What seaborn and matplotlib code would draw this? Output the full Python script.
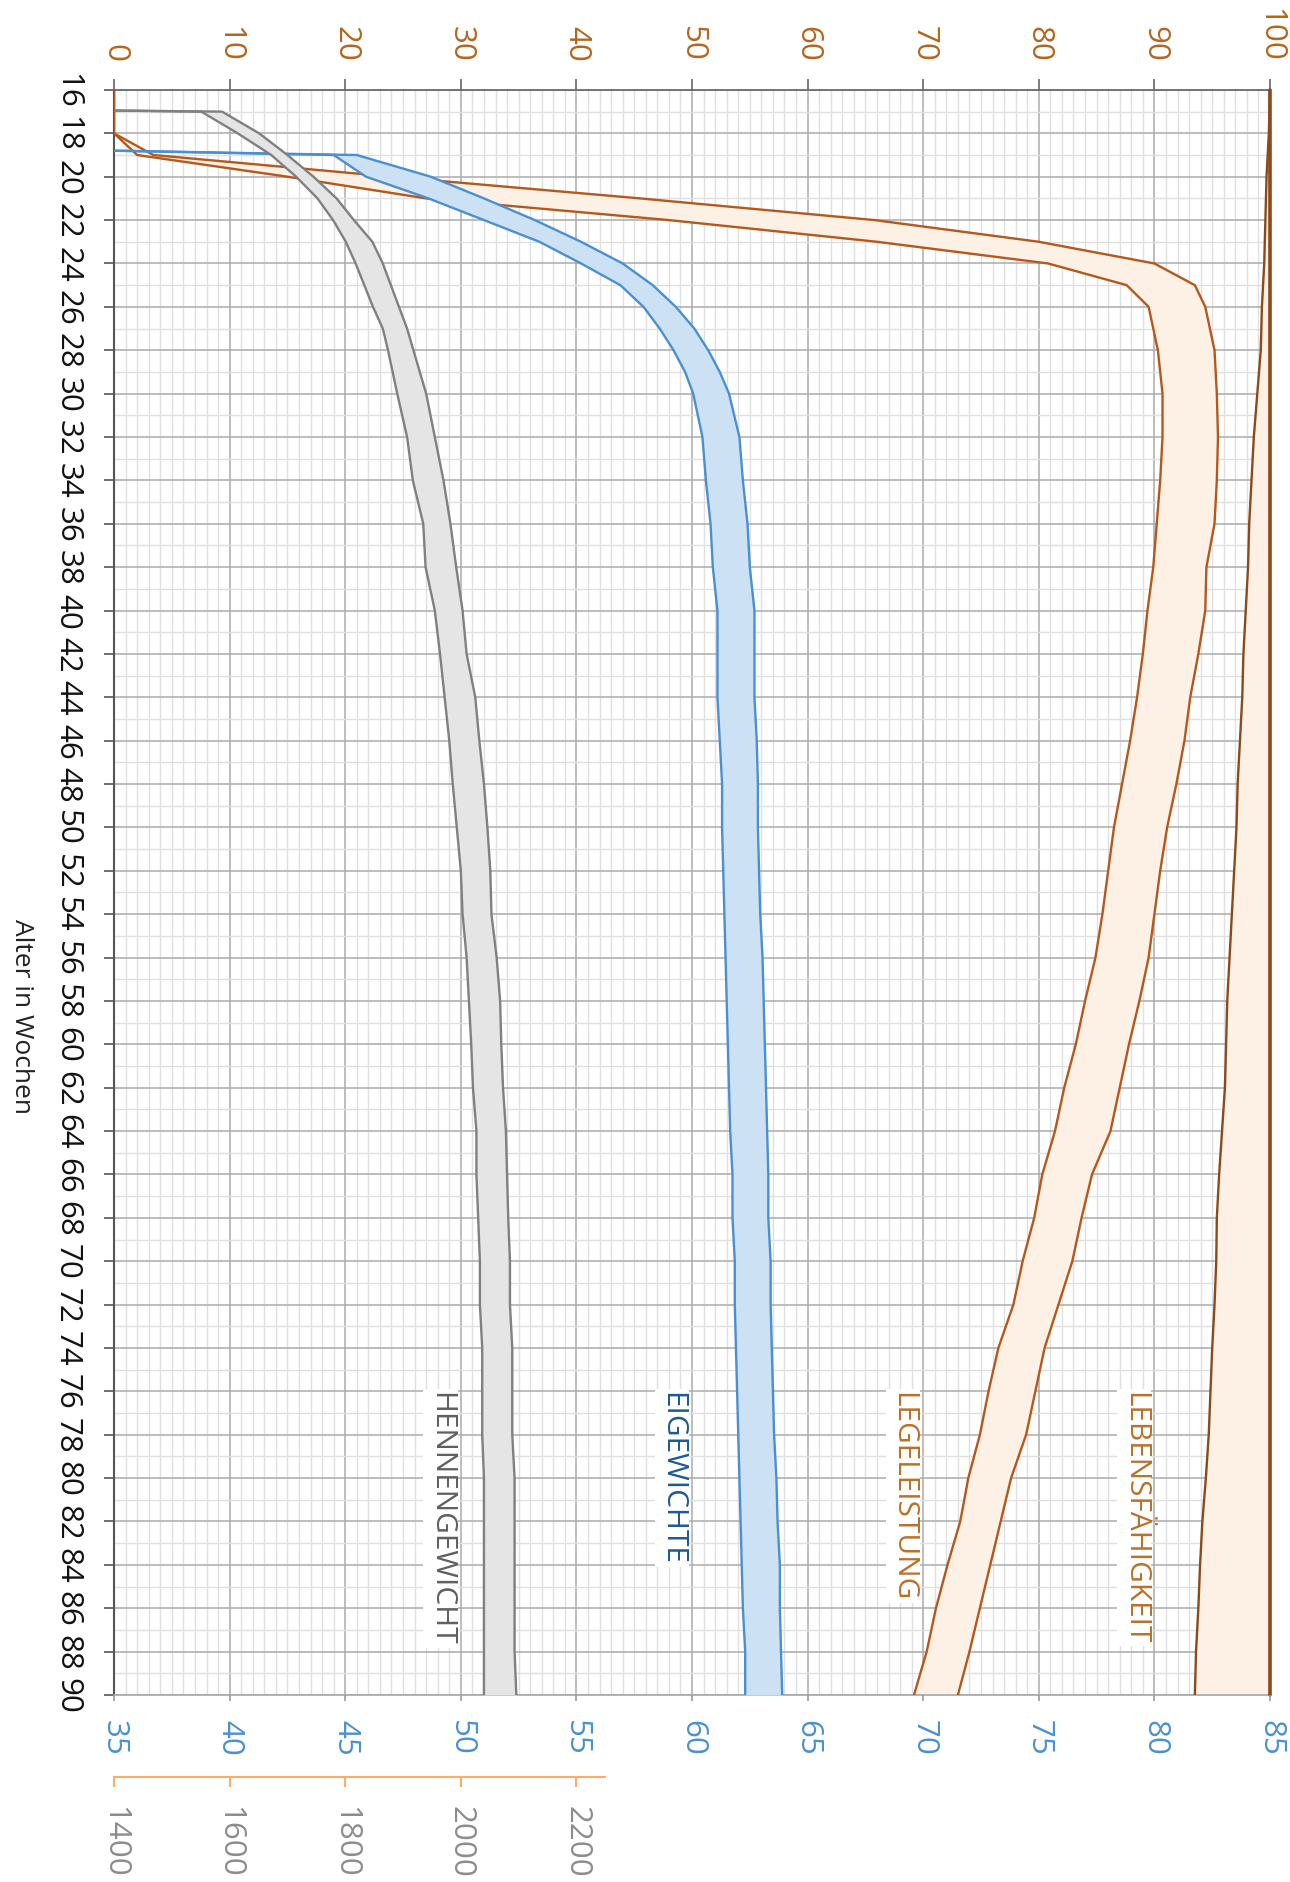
import numpy as np
import pandas as pd
import seaborn as sns
import matplotlib.pyplot as plt
from matplotlib.ticker import MultipleLocator

# Legeleistung in % (oberer Rand 0-100)
lege_wochen = [16, 18, 19, 20, 21, 22, 23, 24, 25, 26, 28, 30, 32, 34, 36, 38, 40, 42, 44, 46, 48,
               50, 52, 54, 56, 58, 60, 62, 64, 66, 68, 70, 72, 74, 76, 78, 80, 82, 84, 86, 88, 90]
lege_max = [0, 0, 3.4, 24, 45.5, 65.8, 80, 90, 93.5, 94.4, 95.2, 95.4, 95.5, 95.4, 95.2, 94.5, 94.4,
            93.8, 93.1, 92.6, 91.9, 91.1, 90.5, 90.0, 89.5, 88.7, 87.8, 87.0, 86.2, 84.6, 83.7, 82.9,
            81.7, 80.5, 79.7, 78.9, 77.6, 76.7, 75.8, 74.9, 74.0, 73.0]
lege_min = [0, 0, 2.0, 15, 27, 48, 66, 80.8, 87.6, 89.5, 90.3, 90.7, 90.7, 90.5, 90.2, 89.9, 89.4,
            89.0, 88.5, 87.9, 87.2, 86.5, 86.0, 85.5, 84.9, 84.0, 83.2, 82.2, 81.4, 80.3, 79.6, 78.6,
            77.8, 76.5, 75.65, 74.9, 73.9, 73.2, 72.1, 71.1, 70.3, 69.2]

# Lebensfähigkeit in %
leben_wochen = [16, 18, 20, 22, 24, 26, 28, 30, 32, 34, 36, 38, 40, 42, 44, 46, 48, 50, 52,
                54, 56, 58, 60, 62, 64, 66, 68, 70, 72, 74, 76, 78, 80, 82, 84, 86, 88, 90]
leben_min = [100, 99.9, 99.7, 99.6, 99.5, 99.3, 99.2, 98.9, 98.6, 98.4, 98.2, 98.1, 97.9, 97.7,
             97.6, 97.4, 97.2, 97.1, 96.9, 96.7, 96.5, 96.3, 96.2, 96.1, 95.85, 95.6, 95.4, 95.35,
             95.2, 95.0, 94.85, 94.7, 94.45, 94.15, 93.95, 93.8, 93.6, 93.5]
leben_max = [100.0] * len(leben_wochen)

# Eigewicht in g (unterer Rand 35-85)
ei_wochen = [18.8, 19, 20, 21, 22, 23, 24, 25, 26, 27, 28, 29, 30, 32, 34, 36, 38, 40, 42, 44, 46,
             48, 50, 52, 54, 56, 58, 60, 62, 64, 66, 68, 70, 72, 74, 76, 78, 80, 82, 84, 86, 88, 90]
ei_min = [35, 44.5, 45.9, 48.6, 51.0, 53.4, 55.2, 56.9, 57.9, 58.6, 59.2, 59.7, 60.05, 60.45, 60.6,
          60.8, 60.9, 61.1, 61.1, 61.1, 61.2, 61.3, 61.3, 61.35, 61.4, 61.45, 61.5, 61.55, 61.6,
          61.65, 61.75, 61.75, 61.85, 61.85, 61.9, 61.95, 62.0, 62.05, 62.1, 62.15, 62.2, 62.3, 62.3]
ei_max = [35, 45.5, 48.7, 51.0, 53.2, 55.2, 57.0, 58.3, 59.3, 60.1, 60.7, 61.2, 61.6, 62.05, 62.2,
          62.4, 62.5, 62.7, 62.7, 62.7, 62.8, 62.85, 62.85, 62.9, 62.95, 63.05, 63.1, 63.15, 63.2,
          63.25, 63.3, 63.3, 63.4, 63.4, 63.45, 63.5, 63.55, 63.65, 63.7, 63.8, 63.8, 63.85, 63.9]

# Hennengewicht in g (Skala 1400-2200)
henne_wochen = [16.95, 17, 18, 19, 20, 21, 22, 23, 24, 26, 27, 28, 30, 32, 34, 36, 38, 40, 42, 44,
                46, 48, 50, 52, 54, 56, 58, 60, 62, 64, 66, 68, 70, 72, 74, 76, 78, 80, 82, 84, 86,
                88, 90]
henne_min = [1400, 1551, 1614, 1672, 1715, 1752, 1779, 1801, 1818, 1848, 1865, 1874, 1890, 1907,
             1917, 1935, 1939, 1955, 1964, 1972, 1980, 1986, 1993, 2000, 2003, 2010, 2014, 2018,
             2021, 2027, 2027, 2030, 2033, 2033, 2037, 2037, 2037, 2040, 2040, 2040, 2040, 2040, 2040]
henne_max = [1400, 1587, 1651, 1700, 1745, 1785, 1815, 1847, 1865, 1893, 1907, 1918, 1940, 1955,
             1970, 1982, 1992, 2003, 2010, 2025, 2032, 2040, 2046, 2051, 2053, 2062, 2068, 2070,
             2073, 2078, 2080, 2082, 2085, 2085, 2089, 2089, 2089, 2093, 2093, 2093, 2093, 2093, 2096]

prozent_ticks = list(range(0, 101, 10))
ei_ticks = list(range(35, 86, 5))
henne_ticks = [1400, 1600, 1800, 2000, 2200]

ORANGE = '#B4581C'
BRAUN = '#8A4A1C'
ORANGE_TXT = '#B5651D'
BLAU = '#4A90D0'
GRAU = '#808080'
TICK_SIZE = 22.5

sns.set_theme(style="white")
plt.rcParams['font.family'] = ['Open Sans', 'DejaVu Sans']


def band(axis, wochen, lo, hi, line_color, fill_color, lw=1.7):
    axis.fill_betweenx(wochen, lo, hi, color=fill_color, lw=0, zorder=2)
    for werte in (lo, hi):
        sns.lineplot(x=werte, y=wochen, orient='y', sort=False, estimator=None,
                     ax=axis, color=line_color, lw=lw, zorder=3)


fig = plt.figure(figsize=(12.9, 18.83), dpi=100)
ax = fig.add_axes([0.0884, 0.0993, 0.8961, 0.8524])
ax2 = ax.twiny()
ax3 = ax.twiny()

band(ax, leben_wochen, leben_min, leben_max, BRAUN, '#FDF0E4')
ax.lines[-1].set_clip_on(False)
ax.lines[-1].set_linewidth(2.6)
band(ax, lege_wochen, lege_min, lege_max, ORANGE, '#FDF0E4')
band(ax2, ei_wochen, ei_min, ei_max, BLAU, '#CCE1F3')
band(ax3, henne_wochen, henne_min, henne_max, GRAU, '#E5E5E5')

# Prozent-Achse oben
ax.set_xlim(0, 100)
ax.set_ylim(90, 16)
ax.set_xlabel('')
ax.set_ylabel('')
ax.xaxis.tick_top()
ax.set_xticks(prozent_ticks)
ax.xaxis.set_minor_locator(MultipleLocator(1))
ax.yaxis.set_major_locator(MultipleLocator(2))
ax.yaxis.set_minor_locator(MultipleLocator(1))
ax.set_axisbelow(True)
ax.grid(which='major', color='#ABABAB', lw=1.1)
ax.grid(which='minor', color='#E0E0E0', lw=1.0)
ax.tick_params(axis='x', which='major', top=True, bottom=False, length=8, width=1.2, color='#666666',
               labelcolor=ORANGE_TXT, labelsize=TICK_SIZE, labelrotation=270, pad=13)
ax.tick_params(axis='y', which='major', left=True, length=7, width=1.2, color='#555555',
               labelcolor='#111111', labelsize=TICK_SIZE, labelrotation=270, pad=16)
ax.tick_params(which='minor', length=0)
plt.setp(ax.get_yticklabels(), va='center')
ax.spines['top'].set_color('#666666')
ax.spines['left'].set_color('#555555')
ax.spines['left'].set_linewidth(1.5)
ax.spines['right'].set_visible(False)
ax.spines['bottom'].set_color('#AAAAAA')

# Eigewicht-Achse unten
ax2.set_xlim(35, 85)
ax2.set_xlabel('')
ax2.xaxis.set_ticks_position('bottom')
ax2.set_xticks(ei_ticks)
ax2.tick_params(axis='x', length=4, width=1.2, color='#999999', labelcolor=BLAU,
                labelsize=TICK_SIZE, labelrotation=270, pad=13)
for s in ('top', 'left', 'right', 'bottom'):
    ax2.spines[s].set_visible(False)

# Hennengewicht-Achse
ax3.set_xlim(1400, 3400)
ax3.set_xlabel('')
ax3.xaxis.set_ticks_position('bottom')
ax3.set_xticks(henne_ticks)
ax3.spines['bottom'].set_position(('outward', 59))
ax3.spines['bottom'].set_bounds(1400, 2250)
ax3.spines['bottom'].set_color('#F5AE6B')
ax3.spines['bottom'].set_linewidth(1.5)
for s in ('top', 'left', 'right'):
    ax3.spines[s].set_visible(False)
ax3.tick_params(axis='x', length=7, width=1.5, color='#F5AE6B', labelcolor='#8C8C8C',
                labelsize=TICK_SIZE, labelrotation=270, pad=13)

# Beschriftungen der Kurven
box = dict(facecolor='white', edgecolor='none', pad=2)
ax.text(29.5, 76, 'HENNENGEWICHT', rotation=270, ha='right', va='top', color='#5F5F5F',
        fontsize=21.5, bbox=box, zorder=5)
ax.text(49.5, 76, 'EIGEWICHTE', rotation=270, ha='right', va='top', color='#1B5A96',
        fontsize=21.5, bbox=box, zorder=5)
ax.text(69.5, 76, 'LEGELEISTUNG', rotation=270, ha='right', va='top', color='#B8712A',
        fontsize=21.5, bbox=box, zorder=5)
ax.text(89.5, 76, 'LEBENSFÄHIGKEIT', rotation=270, ha='right', va='top', color='#B8712A',
        fontsize=21.5, bbox=box, zorder=5)

fig.text(0.0165, 0.46, 'Alter in Wochen', rotation=270, ha='center', va='center',
         color='#222222', fontsize=19)

fig.savefig('out.png', dpi=100)
